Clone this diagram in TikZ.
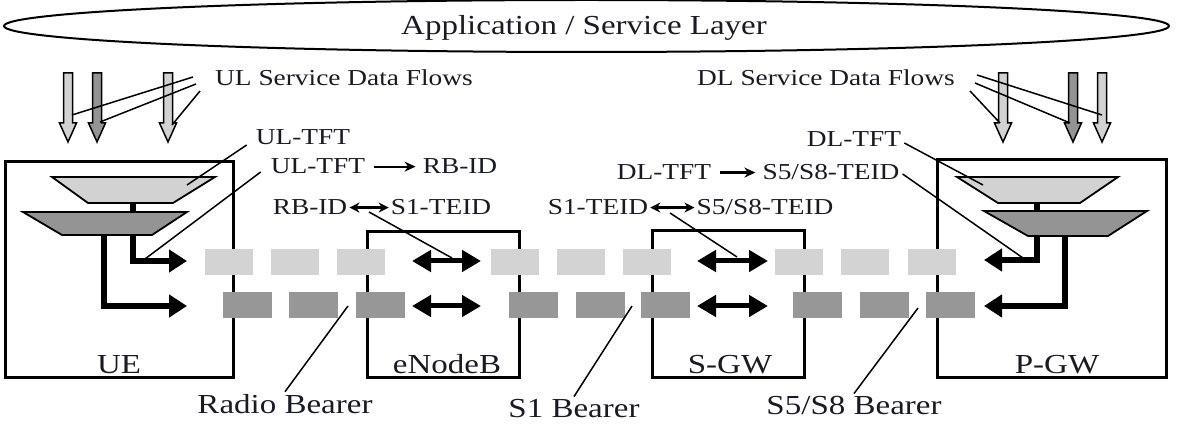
\documentclass[tikz,border=0pt]{standalone}
\usepackage{fontspec}
\setmainfont{Liberation Serif}[FakeStretch=1.2]
\usetikzlibrary{arrows.meta}
\definecolor{barlight}{HTML}{D3D3D3}
\definecolor{bardark}{HTML}{979797}
\definecolor{traplight}{HTML}{D2D2D2}
\definecolor{trapdark}{HTML}{949494}
\definecolor{txt}{HTML}{1A1A26}
\begin{document}
\begin{tikzpicture}[x=1pt,y=-1pt,
  big/.style={font=\fontsize{27.5}{30}\selectfont, text=txt, inner sep=0pt, anchor=base},
  small/.style={font=\fontsize{22.8}{25}\selectfont, text=txt, inner sep=1pt, anchor=base},
  entity/.style={draw, line width=3pt},
  trap/.style={draw, line width=1.8pt, line join=miter},
  fatarrow/.style={line width=6pt, line join=miter, -{Triangle[length=18pt,width=22pt]}},
  dblarrow/.style={line width=5pt, {Triangle[length=19pt,width=21pt]}-{Triangle[length=19pt,width=21pt]}},
  thinarrow/.style={line width=2.2pt, -{Stealth[length=11pt,width=10pt]}, shorten <=8pt, shorten >=6pt},
  thindbl/.style={line width=2.2pt, {Stealth[length=10pt,width=10pt]}-{Stealth[length=10pt,width=10pt]}, shorten <=1pt, shorten >=1pt},
  leader/.style={line width=1.5pt},
  flow/.style={draw, line width=1.5pt, line join=miter}]
\useasboundingbox (0,0) rectangle (1179,427);
\fill[white] (0,0) rectangle (1179,427);

% Application layer ellipse
\draw[line width=2pt] (586.5,26) ellipse [x radius=582.5, y radius=26];
\node[big] (app) at (584,35) {Application / Service Layer};

% entity boxes
\draw[entity] (5,162) rectangle (233,378);
\draw[entity] (367,232) rectangle (519,378);
\draw[entity] (652,231) rectangle (804,378);
\draw[entity] (937,160) rectangle (1166,378);
\node[big] (ue) at (119,374) {UE};
\node[big] (enb) at (447,374) {eNodeB};
\node[big] (sgw) at (730,374) {S-GW};
\node[big] (pgw) at (1057,374) {P-GW};

% bearer bars
\foreach \x in {205,271,337,491,557,623,775,841,908}
  \fill[barlight] (\x,249) rectangle ++(48,26);
\foreach \x in {223,289,356,509,576,641,793,860,926}
  \fill[bardark] (\x,292) rectangle ++(49,26);

% UE filters
\draw[line width=6pt] (133,203) -- (133,212);
\draw[trap, fill=traplight] (52,177) -- (215,177) -- (173,203) -- (88,203) -- cycle;
\draw[trap, fill=trapdark] (23,212) -- (187,212) -- (152,235) -- (62,235) -- cycle;
\draw[fatarrow] (133,235) -- (133,261) -- (187,261);
\draw[fatarrow] (104,235) -- (104,306) -- (187,306);

% P-GW filters
\draw[line width=6pt] (1037,203) -- (1037,211);
\draw[trap, fill=traplight] (957,177) -- (1118,177) -- (1080,203) -- (998,203) -- cycle;
\draw[trap, fill=trapdark] (984,211) -- (1147,211) -- (1108,236) -- (1028,236) -- cycle;
\draw[fatarrow] (1037,236) -- (1037,260) -- (984,260);
\draw[fatarrow] (1065,236) -- (1065,306) -- (984,306);

% mapping double arrows
\draw[dblarrow] (412,261) -- (481,261);
\draw[dblarrow] (412,306) -- (481,306);
\draw[dblarrow] (697,261) -- (768,261);
\draw[dblarrow] (697,306) -- (768,306);

% service data flow arrows
\foreach \cx/\col in {68/traplight,97/trapdark,168/traplight,1003/traplight,1073/trapdark,1102/traplight}
  \draw[flow, fill=\col] (\cx-4.5,73) -- (\cx+4.5,73) -- (\cx+4.5,123) -- (\cx+8.5,123)
     -- (\cx,142) -- (\cx-8.5,123) -- (\cx-4.5,123) -- cycle;

% labels
\node[small] (ulsdf) at (344,86) {UL Service Data Flows};
\node[small] (dlsdf) at (826,86) {DL Service Data Flows};
\node[small] (ultftA) at (303,145) {UL-TFT};
\node[small] (ultftB) at (318,174) {UL-TFT};
\node[small] (rbidA) at (460,174) {RB-ID};
\node[small] (rbidB) at (310,215) {RB-ID};
\node[small] (steidA) at (441,215) {S1-TEID};
\node[small] (dltftA) at (664,180) {DL-TFT};
\node[small] (sfiveA) at (831,180) {S5/S8-TEID};
\node[small] (steidB) at (598,215) {S1-TEID};
\node[small] (sfiveB) at (765,215) {S5/S8-TEID};
\node[small] (dltftB) at (854,147) {DL-TFT};
\node[big] (radio) at (285,414) {Radio Bearer};
\node[big] (sone) at (574,418) {S1 Bearer};
\node[big] (sfive) at (854,415) {S5/S8 Bearer};

% label arrows
\draw[thinarrow] (ultftB.east) -- (ultftB.east -| rbidA.west);
\draw[thinarrow] (dltftA.east) -- (dltftA.east -| sfiveA.west);
\draw[thindbl] (rbidB.east) -- (rbidB.east -| steidA.west);
\draw[thindbl] (steidB.east) -- (steidB.east -| sfiveB.west);

% flow leaders
\draw[leader] (193,77) -- (72,115);
\draw[leader] (196,84) -- (100,122);
\draw[leader] (200,91) -- (172,125);
\draw[leader] (977,75) -- (1102,115);
\draw[leader] (975,83) -- (1070,123);
\draw[leader] (970,91) -- (1000,123);

% TFT / TEID leaders
\draw[leader] ([xshift=-8pt]ultftA.base west) -- (187,185);
\draw[leader] ([xshift=-9pt,yshift=2pt]ultftB.base west) -- (145,259);
\draw[leader] (369,212) -- (452,258);
\draw[leader] (670,213) -- (737,257);
\draw[leader] ([xshift=2pt,yshift=4pt]dltftB.base east) -- (983,185);
\draw[leader] ([xshift=2pt,yshift=6pt]sfiveA.base east) -- (1023,258);

% bearer leaders
\draw[leader] (348,306) -- ([yshift=3pt]radio.north);
\draw[leader] (632,306) -- ([yshift=3pt]sone.north);
\draw[leader] (918,308) -- ([yshift=3pt]sfive.north);
\end{tikzpicture}
\end{document}
